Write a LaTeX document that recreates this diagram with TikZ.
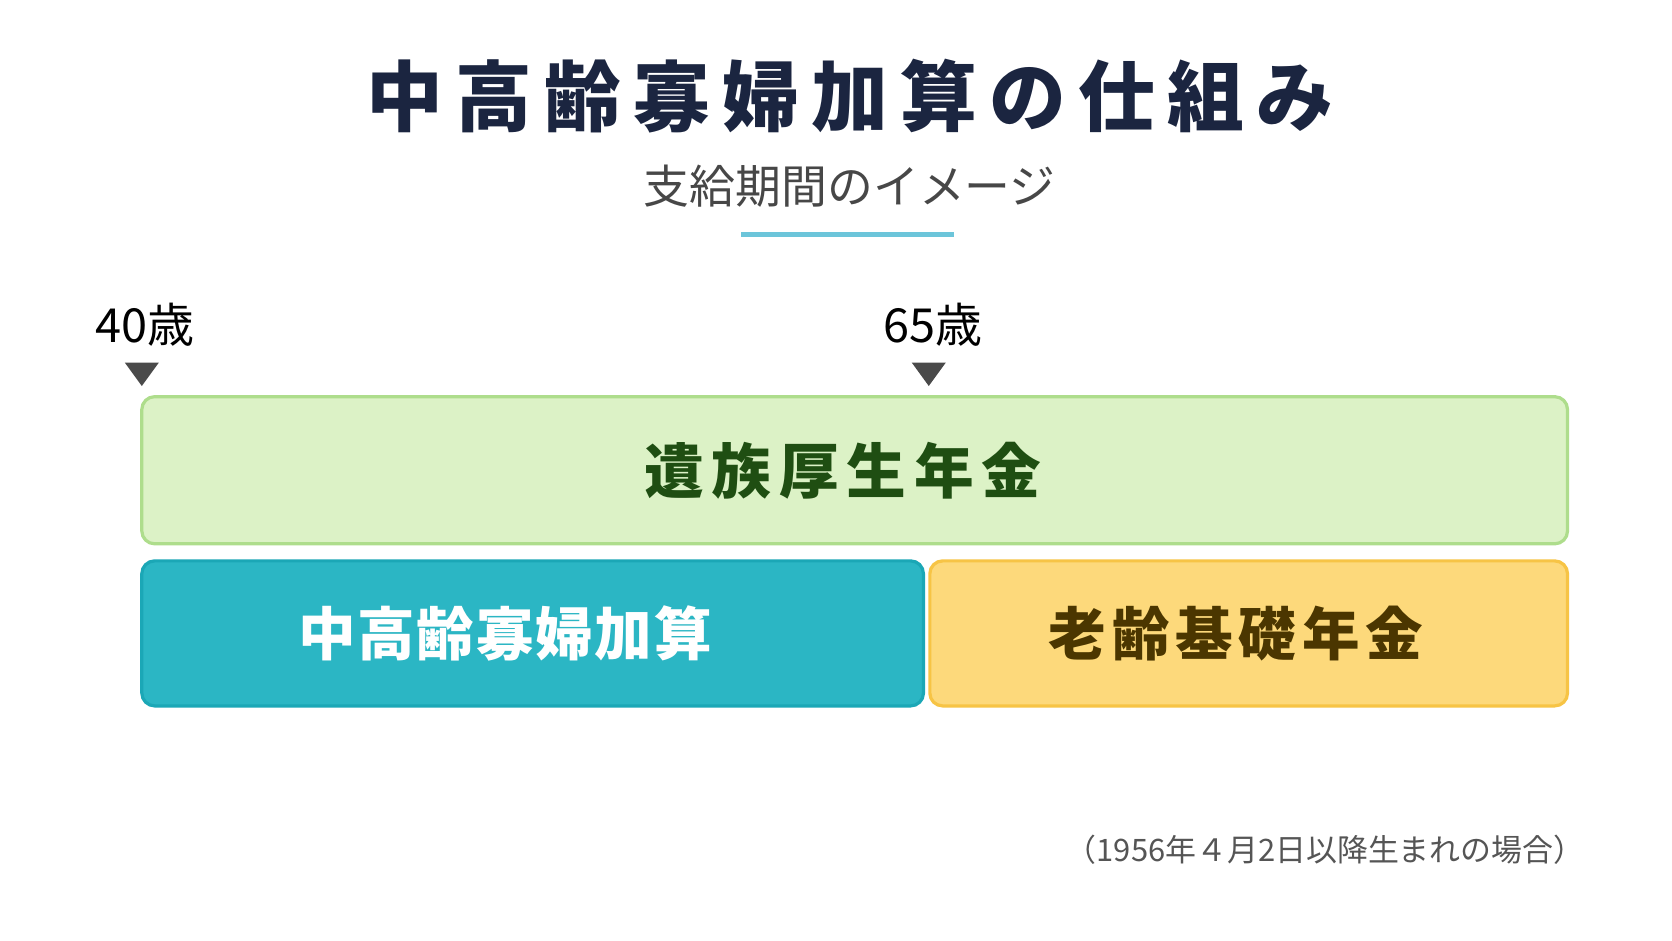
\documentclass[tikz,border=0pt]{standalone}
\usepackage{fontspec}
\setmainfont{Noto Sans CJK JP}
\usetikzlibrary{positioning}
\definecolor{titlenavy}{HTML}{1B2540}
\definecolor{subgray}{HTML}{474747}
\definecolor{linecyan}{HTML}{6CC5DA}
\definecolor{markgray}{HTML}{4A4A4A}
\definecolor{greenfill}{HTML}{DCF2C6}
\definecolor{greenline}{HTML}{AEDD8C}
\definecolor{greentext}{HTML}{1F4E12}
\definecolor{tealfill}{HTML}{2BB6C4}
\definecolor{tealline}{HTML}{1BA7B6}
\definecolor{yellowfill}{HTML}{FDD97B}
\definecolor{yellowline}{HTML}{F7C445}
\definecolor{yellowtext}{HTML}{4B3600}
\definecolor{notegray}{HTML}{555555}
\tikzset{
  bar/.style={draw, rounded corners=6pt, line width=1.5pt, inner sep=0pt},
  bartext/.style={font=\bfseries\fontsize{27}{30}\selectfont},
  agelabel/.style={font=\fontsize{22}{24}\selectfont, text=black},
  marker/.style={fill=markgray}
}
\begin{document}
\begin{tikzpicture}[x=0.5pt,y=-0.5pt]
\useasboundingbox[fill=white] (0,0) rectangle (1568,882);
% title and subtitle
\node[font=\bfseries\fontsize{36}{40}\selectfont\addfontfeature{LetterSpace=16}, text=titlenavy] (title) at (797,90) {中高齢寡婦加算の仕組み};
\node[font=\fontsize{21.5}{24}\selectfont, text=subgray] (sub) at (797,175) {支給期間のイメージ};
\draw[linecyan, line width=2pt] (695,220) -- (895,220);
% ages
\node[agelabel] (age40) at (136,305) {40歳};
\node[agelabel] (age65) at (875,305) {65歳};
\coordinate (tip40) at (133,362);
\coordinate (tip65) at (871,362);
\fill[marker] (tip40) -- ++(-16,-22) -- ++(32,0) -- cycle;
\fill[marker] (tip65) -- ++(-16,-22) -- ++(32,0) -- cycle;
% bars
\node[bar, fill=greenfill, draw=greenline, minimum width=668.5pt, minimum height=69pt] (izoku) at (801.5,441) {};
\node[bar, fill=tealfill, draw=tealline, minimum width=366.5pt, minimum height=68pt] (kasan) at (499.5,594) {};
\node[bar, fill=yellowfill, draw=yellowline, minimum width=299pt, minimum height=68pt] (kiso) at (1171,594) {};
\node[bartext, text=greentext, font=\bfseries\fontsize{28}{30}\selectfont\addfontfeature{LetterSpace=13}] (izokutext) at ([xshift=-5.5pt]izoku.center) {遺族厚生年金};
\node[bartext, text=white, font=\bfseries\fontsize{27}{30}\selectfont\addfontfeature{LetterSpace=3}] (kasantext) at ([xshift=-13pt]kasan.center) {中高齢寡婦加算};
\node[bartext, text=yellowtext, font=\bfseries\fontsize{27}{30}\selectfont\addfontfeature{LetterSpace=10}] (kisotext) at ([xshift=-6pt]kiso.center) {老齢基礎年金};
% note
\node[anchor=east, font=\fontsize{14.5}{16}\selectfont, text=notegray] (note) at (1493,797) {（1956年４月2日以降生まれの場合）};
\end{tikzpicture}
\end{document}
